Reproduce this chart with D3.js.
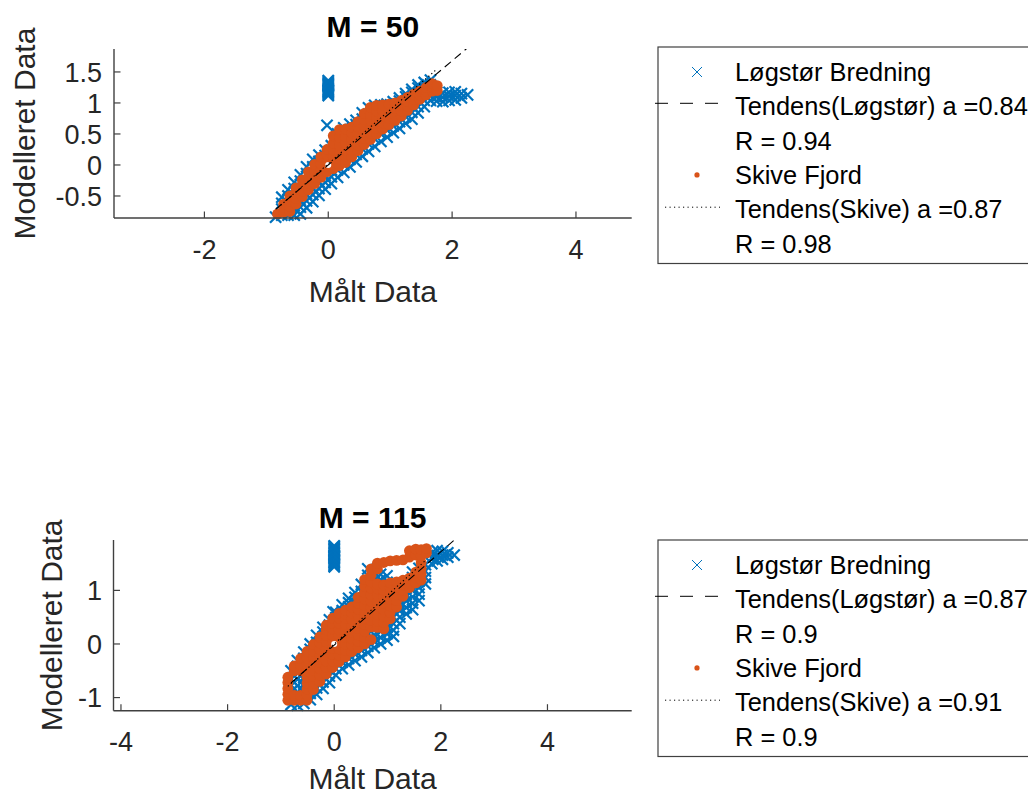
<!DOCTYPE html>
<html>
<head>
<meta charset="utf-8">
<script src="https://cdn.jsdelivr.net/npm/d3@7"></script>
<style>
  html, body { margin: 0; padding: 0; background: #fff; overflow: hidden; }
  svg { display: block; font-family: "Liberation Sans", Arial, Helvetica, sans-serif; }
</style>
</head>
<body>
<svg id="chart" width="1028" height="796"></svg>
<script>
// ---------------- data ----------------
const panelTitles = ["M = 50", "M = 115"];
const seriesNames = ["Løgstør Bredning", "Skive Fjord"];

const xLimits50 = [-3.46, 4.9];
const yLimits50 = [-0.855, 1.87];
const xTicks50 = [-2, 0, 2, 4];
const xTickLabels50 = ["-2", "0", "2", "4"];
const yTicks50 = [-0.5, 0, 0.5, 1, 1.5];
const yTickLabels50 = ["-0.5", "0", "0.5", "1", "1.5"];

const xLimits115 = [-4.14, 5.58];
const yLimits115 = [-1.245, 1.94];
const xTicks115 = [-4, -2, 0, 2, 4];
const xTickLabels115 = ["-4", "-2", "0", "2", "4"];
const yTicks115 = [-1, 0, 1];
const yTickLabels115 = ["-1", "0", "1"];

// trend fits: slope a, intercept b, correlation R
const logstorSlope = [0.84, 0.87];
const logstorIntercept = [0.0, -0.02];
const logstorR = [0.94, 0.9];
const skiveSlope = [0.87, 0.91];
const skiveIntercept = [0.02, 0.0];
const skiveR = [0.98, 0.9];

// scatter samples, one row per measured value: [målt, modelleret, modelleret, ...]
const logstor50Cols = [
  [-0.85, -0.84],
  [-0.75, -0.81, -0.71, -0.62, -0.52],
  [-0.65, -0.81, -0.71, -0.61, -0.50, -0.40],
  [-0.55, -0.81, -0.70, -0.60, -0.49, -0.38, -0.28],
  [-0.45, -0.79, -0.68, -0.57, -0.47, -0.37, -0.26, -0.16],
  [-0.35, -0.69, -0.58, -0.47, -0.36, -0.25, -0.14, -0.03],
  [-0.25, -0.59, -0.48, -0.37, -0.26, -0.14, -0.03, 0.09],
  [-0.15, -0.49, -0.38, -0.27, -0.16, -0.05, 0.06, 0.16],
  [-0.05, -0.39, -0.28, -0.17, -0.06, 0.05, 0.15, 0.24],
  [0.05, -0.30, -0.19, -0.08, 0.03, 0.14, 0.24, 0.31],
  [0.15, -0.20, -0.08, 0.04, 0.16, 0.28, 0.40, 0.50],
  [0.25, -0.12, 0.00, 0.12, 0.24, 0.36, 0.48, 0.60],
  [0.35, -0.03, 0.09, 0.21, 0.33, 0.45, 0.57, 0.66],
  [0.45, 0.05, 0.17, 0.29, 0.41, 0.53, 0.65, 0.72],
  [0.55, 0.14, 0.26, 0.38, 0.50, 0.62, 0.74, 0.84],
  [0.65, 0.22, 0.34, 0.46, 0.58, 0.70, 0.82, 0.92],
  [0.75, 0.30, 0.42, 0.54, 0.66, 0.78, 0.90, 0.96],
  [0.85, 0.38, 0.50, 0.62, 0.74, 0.86, 0.97],
  [0.95, 0.45, 0.56, 0.67, 0.78, 0.89, 0.98],
  [1.05, 0.52, 0.63, 0.74, 0.85, 0.96, 1.02],
  [1.15, 0.59, 0.70, 0.81, 0.92, 1.03, 1.08],
  [1.25, 0.67, 0.78, 0.89, 1.00, 1.10, 1.15],
  [1.35, 0.74, 0.85, 0.96, 1.07, 1.17, 1.22],
  [1.45, 0.84, 0.94, 1.04, 1.14, 1.24, 1.29],
  [1.55, 0.94, 1.04, 1.14, 1.24, 1.33],
  [1.65, 1.04, 1.12, 1.20, 1.29, 1.37],
  [1.75, 1.03, 1.10, 1.17],
  [1.85, 1.02, 1.09, 1.16],
  [1.95, 1.04, 1.11, 1.17],
  [2.05, 1.05, 1.12, 1.18],
  [2.15, 1.08, 1.15],
  [2.25, 1.13],
  [-0.02, 0.64],
  [0.00, 1.12, 1.14, 1.16, 1.18, 1.20, 1.22, 1.24, 1.26, 1.28, 1.30, 1.32, 1.34, 1.36]
];

const skive50Cols = [
  [-0.82, -0.79],
  [-0.72, -0.76, -0.69, -0.63],
  [-0.62, -0.75, -0.67, -0.58, -0.50],
  [-0.52, -0.63, -0.54, -0.45, -0.37],
  [-0.42, -0.51, -0.42, -0.33, -0.24],
  [-0.32, -0.40, -0.30, -0.20, -0.11],
  [-0.22, -0.30, -0.20, -0.10, 0.01],
  [-0.12, -0.20, -0.09, 0.02, 0.13],
  [-0.02, -0.11, -0.02, 0.07, 0.16, 0.25],
  [0.08, -0.06, 0.04, 0.14, 0.24, 0.35, 0.47],
  [0.18, -0.01, 0.10, 0.21, 0.32, 0.44, 0.57],
  [0.28, 0.04, 0.14, 0.24, 0.35, 0.46, 0.58],
  [0.38, 0.13, 0.23, 0.33, 0.42, 0.52, 0.61],
  [0.48, 0.23, 0.32, 0.42, 0.51, 0.61, 0.70],
  [0.58, 0.33, 0.43, 0.53, 0.63, 0.73, 0.83],
  [0.68, 0.41, 0.51, 0.61, 0.72, 0.82, 0.93],
  [0.78, 0.50, 0.59, 0.68, 0.77, 0.87, 0.96],
  [0.88, 0.58, 0.68, 0.78, 0.88, 0.97],
  [0.98, 0.65, 0.76, 0.87, 0.98],
  [1.08, 0.72, 0.81, 0.91, 1.00],
  [1.18, 0.79, 0.87, 0.96, 1.04],
  [1.28, 0.88, 0.95, 1.02, 1.09],
  [1.38, 0.97, 1.06, 1.14],
  [1.48, 1.06, 1.13, 1.19],
  [1.58, 1.13, 1.19, 1.25],
  [1.68, 1.19, 1.25, 1.31],
  [1.76, 1.20, 1.28]
];

const logstor115Cols = [
  [-0.81, -1.13, -1.01, -0.89, -0.77, -0.65, -0.50],
  [-0.69, -1.14, -1.02, -0.90, -0.78, -0.66, -0.54, -0.42, -0.31],
  [-0.57, -1.11, -0.99, -0.87, -0.75, -0.63, -0.51, -0.39, -0.27, -0.15],
  [-0.45, -1.04, -0.92, -0.80, -0.68, -0.56, -0.44, -0.32, -0.20, -0.10, 0.00],
  [-0.33, -0.94, -0.82, -0.70, -0.58, -0.46, -0.34, -0.22, -0.10, 0.03, 0.16],
  [-0.21, -0.83, -0.71, -0.59, -0.47, -0.35, -0.23, -0.11, 0.01, 0.13, 0.22, 0.31],
  [-0.09, -0.72, -0.60, -0.48, -0.36, -0.24, -0.12, 0.00, 0.12, 0.24, 0.35, 0.45],
  [0.03, -0.58, -0.46, -0.34, -0.22, -0.10, 0.02, 0.14, 0.26, 0.38, 0.49, 0.59],
  [0.15, -0.46, -0.34, -0.22, -0.10, 0.02, 0.14, 0.26, 0.38, 0.50, 0.62, 0.73],
  [0.27, -0.39, -0.27, -0.15, -0.03, 0.09, 0.21, 0.33, 0.45, 0.57, 0.69, 0.77, 0.85],
  [0.39, -0.31, -0.19, -0.07, 0.05, 0.17, 0.29, 0.41, 0.53, 0.65, 0.77, 0.87, 0.96],
  [0.51, -0.24, -0.12, 0.00, 0.12, 0.24, 0.36, 0.48, 0.60, 0.72, 0.84, 0.98, 1.11],
  [0.63, -0.16, -0.04, 0.08, 0.20, 0.32, 0.44, 0.56, 0.68, 0.80, 0.92, 1.04, 1.16, 1.28, 1.40],
  [0.75, -0.07, 0.05, 0.17, 0.29, 0.41, 0.53, 0.65, 0.77, 0.89, 1.01, 1.13, 1.25, 1.35],
  [0.87, 0.00, 0.12, 0.24, 0.36, 0.48, 0.60, 0.72, 0.84, 0.96, 1.08, 1.20, 1.30],
  [0.99, 0.07, 0.19, 0.31, 0.43, 0.55, 0.67, 0.79, 0.91, 1.03, 1.15, 1.27],
  [1.11, 0.14, 0.26, 0.38, 0.50, 0.62, 0.74, 0.86, 0.98, 1.10],
  [1.23, 0.38, 0.50, 0.62, 0.74, 0.86, 0.98, 1.12],
  [1.35, 0.56, 0.68, 0.80, 0.92, 1.04, 1.16],
  [1.47, 0.64, 0.76, 0.88, 1.00, 1.12, 1.24, 1.34],
  [1.59, 0.81, 0.93, 1.05, 1.17, 1.29, 1.41],
  [1.71, 1.12, 1.24, 1.36, 1.48],
  [1.83, 1.50, 1.60, 1.70],
  [1.93, 1.55, 1.65, 1.74],
  [2.03, 1.58, 1.66, 1.73],
  [2.13, 1.62, 1.70],
  [2.25, 1.66],
  [-0.02, 0.60],
  [0.00, 1.44, 1.465, 1.49, 1.515, 1.54, 1.565, 1.59, 1.615, 1.64, 1.665, 1.69, 1.715, 1.74, 1.765, 1.79, 1.815, 1.83]
];

const skive115Cols = [
  [-0.87, -1.05, -0.94, -0.83, -0.72, -0.62],
  [-0.75, -1.05, -0.96, -0.50, -0.41],
  [-0.63, -1.05, -0.96, -0.50, -0.39, -0.27],
  [-0.51, -1.05, -0.95, -0.84, -0.73, -0.62, -0.50, -0.38, -0.26, -0.14],
  [-0.39, -0.85, -0.73, -0.61, -0.49, -0.37, -0.25, -0.13, -0.01],
  [-0.27, -0.70, -0.58, -0.46, -0.34, -0.22, -0.10, 0.02, 0.13],
  [-0.15, -0.56, -0.44, -0.32, -0.20, -0.08, 0.04, 0.16, 0.26, 0.35],
  [-0.03, -0.44, -0.32, -0.20, -0.08, 0.04, 0.16, 0.28, 0.38, 0.48],
  [0.09, -0.33, -0.21, -0.09, 0.03, 0.15, 0.27, 0.39, 0.48, 0.57],
  [0.21, -0.24, -0.12, 0.00, 0.12, 0.24, 0.36, 0.48, 0.56, 0.63],
  [0.33, -0.14, -0.02, 0.10, 0.22, 0.34, 0.46, 0.58, 0.69],
  [0.45, -0.07, 0.05, 0.17, 0.29, 0.41, 0.53, 0.65, 0.76, 0.87],
  [0.57, 0.00, 0.12, 0.24, 0.36, 0.48, 0.60, 0.72, 0.84, 0.96, 1.08, 1.20],
  [0.69, 0.08, 0.32, 0.44, 0.56, 0.68, 0.80, 0.92, 1.04, 1.16, 1.28, 1.40],
  [0.81, 0.31, 0.43, 0.55, 0.67, 0.79, 0.91, 1.03, 1.12, 1.40, 1.51],
  [0.93, 0.28, 0.40, 0.52, 0.64, 0.76, 0.88, 1.00, 1.10, 1.52],
  [1.05, 0.47, 0.59, 0.71, 0.83, 0.95, 1.05, 1.14, 1.55],
  [1.17, 0.69, 0.81, 0.93, 1.05, 1.16, 1.56],
  [1.29, 0.89, 1.00, 1.10, 1.19, 1.57],
  [1.41, 1.05, 1.14, 1.23, 1.62, 1.74],
  [1.53, 1.14, 1.24, 1.34, 1.66, 1.77],
  [1.63, 1.19, 1.30, 1.41, 1.52, 1.64, 1.76],
  [1.73, 1.70, 1.78]
];

const originPoint = [[0, 0]];

// ---------------- drawing ----------------
const BLUE = "#0072BD";
const ORANGE = "#D95319";
const AXIS = "#404040";
const TEXT = "#262626";

const svg = d3.select("#chart");
svg.append("rect").attr("width", 1028).attr("height", 796).attr("fill", "#fff");

const unpack = cols => cols.flatMap(([x, ...ys]) => ys.map(y => [x, y]));

const panels = [
  { title: panelTitles[0], box: { left: 114, right: 631.7, top: 49, bottom: 218 },
    xLim: xLimits50, yLim: yLimits50,
    xTicks: xTicks50, xTickLabels: xTickLabels50, yTicks: yTicks50, yTickLabels: yTickLabels50,
    logstor: unpack(logstor50Cols), skive: unpack(skive50Cols), i: 0,
    yLabelX: 35, xLabelY: 301.5, legendTop: 47 },
  { title: panelTitles[1], box: { left: 113.5, right: 631.7, top: 540, bottom: 710.7 },
    xLim: xLimits115, yLim: yLimits115,
    xTicks: xTicks115, xTickLabels: xTickLabels115, yTicks: yTicks115, yTickLabels: yTickLabels115,
    logstor: unpack(logstor115Cols), skive: unpack(skive115Cols), i: 1,
    yLabelX: 62, xLabelY: 789, legendTop: 540 }
];

const crossPath = s => `M${-s},${-s}L${s},${s}M${-s},${s}L${s},${-s}`;

panels.forEach((p, k) => {
  const b = p.box;
  const x = d3.scaleLinear().domain(p.xLim).range([b.left, b.right]);
  const y = d3.scaleLinear().domain(p.yLim).range([b.bottom, b.top]);
  const g = svg.append("g");

  const clipId = "plotclip" + k;
  svg.append("clipPath").attr("id", clipId)
    .append("rect").attr("x", b.left).attr("y", b.top)
    .attr("width", b.right - b.left).attr("height", b.bottom - b.top);

  // Løgstør Bredning: cross markers
  g.append("g").selectAll("path").data(p.logstor).join("path")
    .attr("transform", d => `translate(${x(d[0])},${y(d[1])})`)
    .attr("d", crossPath(5.6))
    .attr("stroke", BLUE).attr("stroke-width", 2.2).attr("fill", "none");

  // Skive Fjord: filled dots
  g.append("g").selectAll("circle").data(p.skive).join("circle")
    .attr("cx", d => x(d[0])).attr("cy", d => y(d[1]))
    .attr("r", 5.4).attr("fill", ORANGE);

  // origin marker
  g.append("g").selectAll("circle").data(originPoint).join("circle")
    .attr("cx", d => x(d[0])).attr("cy", d => y(d[1]))
    .attr("r", 3).attr("fill", "#fff");

  // trend lines across each series' measured range
  const lx = d3.extent(p.logstor, d => d[0]);
  const sx = d3.extent(p.skive, d => d[0]);
  const la = logstorSlope[p.i], lb = logstorIntercept[p.i];
  const sa = skiveSlope[p.i], sb = skiveIntercept[p.i];
  const line = d3.line().x(d => x(d[0])).y(d => y(d[1]));
  const lines = g.append("g").attr("clip-path", `url(#${clipId})`);
  lines.append("path").attr("d", line(lx.map(v => [v, la * v + lb])))
    .attr("stroke", "#000").attr("stroke-width", 1.1).attr("fill", "none")
    .attr("stroke-dasharray", "8,5");
  lines.append("path").attr("d", line(sx.map(v => [v, sa * v + sb])))
    .attr("stroke", "#000").attr("stroke-width", 1.1).attr("fill", "none")
    .attr("stroke-dasharray", "1.3,2.7");

  // axes (box off, ticks pointing inward)
  const ax = svg.append("g").attr("fill", TEXT);
  ax.append("line").attr("x1", b.left).attr("x2", b.right).attr("y1", b.bottom).attr("y2", b.bottom)
    .attr("stroke", AXIS).attr("stroke-width", 1.4);
  ax.append("line").attr("x1", b.left).attr("x2", b.left).attr("y1", b.top).attr("y2", b.bottom)
    .attr("stroke", AXIS).attr("stroke-width", 1.4);

  ax.selectAll(".xt").data(p.xTicks).join("line")
    .attr("x1", d => x(d)).attr("x2", d => x(d))
    .attr("y1", b.bottom).attr("y2", b.bottom - 6.5)
    .attr("stroke", AXIS).attr("stroke-width", 1.2);
  ax.selectAll(".xl").data(p.xTicks).join("text")
    .attr("x", d => x(d)).attr("y", b.bottom + 40.5)
    .attr("text-anchor", "middle").attr("font-size", 27)
    .text((d, i) => p.xTickLabels[i]);

  ax.selectAll(".yt").data(p.yTicks).join("line")
    .attr("x1", b.left).attr("x2", b.left + 6.5)
    .attr("y1", d => y(d)).attr("y2", d => y(d))
    .attr("stroke", AXIS).attr("stroke-width", 1.2);
  ax.selectAll(".yl").data(p.yTicks).join("text")
    .attr("x", 102).attr("y", d => y(d) + 9.6)
    .attr("text-anchor", "end").attr("font-size", 27)
    .text((d, i) => p.yTickLabels[i]);

  const cx = (b.left + b.right) / 2;
  const cy = (b.top + b.bottom) / 2;
  ax.append("text").attr("x", cx).attr("y", p.xLabelY)
    .attr("text-anchor", "middle").attr("font-size", 30).text("Målt Data");
  ax.append("text").attr("transform", `translate(${p.yLabelX},${cy}) rotate(-90)`)
    .attr("text-anchor", "middle").attr("font-size", 30).text("Modelleret Data");
  svg.append("text").attr("x", cx).attr("y", b.top - 12.5)
    .attr("text-anchor", "middle").attr("font-size", 30).attr("font-weight", "bold")
    .attr("fill", "#000").text(p.title);

  // legend
  const lg = svg.append("g").attr("transform", `translate(658,${p.legendTop})`);
  lg.append("rect").attr("x", 0).attr("y", 0).attr("width", 500).attr("height", 216.5)
    .attr("fill", "#fff").attr("stroke", AXIS).attr("stroke-width", 1.2);
  const rows = [25, 59.3, 93.6, 127.9, 162.2, 196.5];
  const labels = [
    seriesNames[0],
    `Tendens(Løgstør) a =${logstorSlope[p.i]}`,
    `R = ${logstorR[p.i]}`,
    seriesNames[1],
    `Tendens(Skive) a =${skiveSlope[p.i]}`,
    `R = ${skiveR[p.i]}`
  ];
  lg.selectAll("text").data(labels).join("text")
    .attr("x", 77).attr("y", (d, i) => rows[i] + 9)
    .attr("font-size", 25.4).attr("fill", "#000").text(d => d);
  lg.append("path").attr("transform", `translate(39,${rows[0]})`)
    .attr("d", crossPath(5)).attr("stroke", BLUE).attr("stroke-width", 1).attr("fill", "none");
  lg.append("line").attr("x1", -3).attr("x2", 62).attr("y1", rows[1] - 3).attr("y2", rows[1] - 3)
    .attr("stroke", "#000").attr("stroke-width", 1).attr("stroke-dasharray", "13,12");
  lg.append("circle").attr("cx", 39).attr("cy", rows[3]).attr("r", 2.6).attr("fill", ORANGE);
  lg.append("line").attr("x1", 7).attr("x2", 62).attr("y1", rows[4] - 2).attr("y2", rows[4] - 2)
    .attr("stroke", "#000").attr("stroke-width", 1).attr("stroke-dasharray", "1.2,3.3");
});
</script>
</body>
</html>
